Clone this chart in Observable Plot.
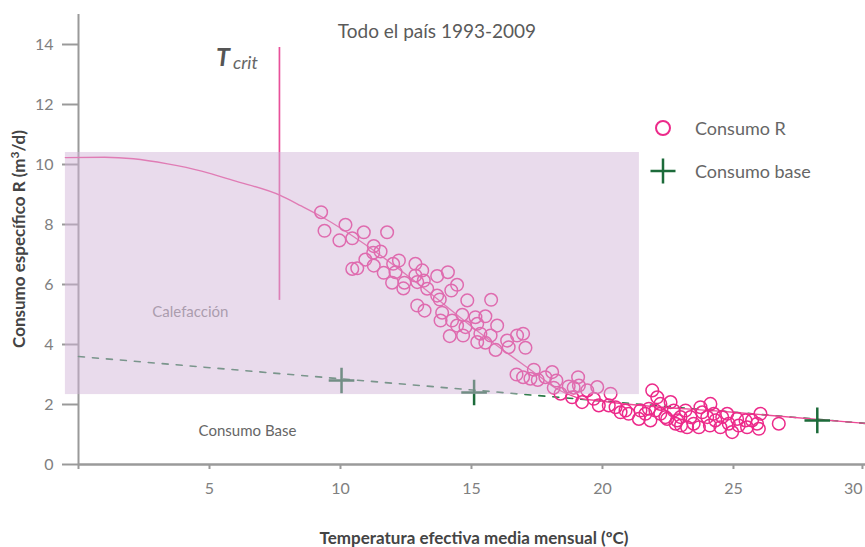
<!DOCTYPE html>
<html><head><meta charset="utf-8">
<script src="https://cdn.jsdelivr.net/npm/d3@7"></script>
<script src="https://cdn.jsdelivr.net/npm/@observablehq/plot@0.6"></script>
<style>
body{margin:0;background:#fff;font-family:Lato,sans-serif;}
#wrap{position:relative;width:865px;height:547px;overflow:hidden;}
#title{position:absolute;top:20px;left:0;width:874px;text-align:center;font-size:19px;line-height:22px;color:#5a5a5a;}
.legsym{position:absolute;left:648px;width:30px;height:30px;}
.legtxt{position:absolute;left:695px;font-size:18px;line-height:20px;color:#666;white-space:nowrap;}
</style></head><body><div id="wrap"></div>
<script>
// Consumo R (scatter): temperature (ºC) and specific consumption (m3/d)
const tempR = [9.26,9.39,10.19,9.96,10.45,10.89,11.78,11.27,11.53,11.25,10.95,10.45,10.64,11.27,11.65,12.01,12.23,12.10,11.97,12.44,12.86,12.86,12.40,12.93,
13.12,13.18,13.31,13.69,14.10,14.45,14.23,13.69,13.79,14.84,15.75,12.93,13.21,13.88,13.82,14.26,14.65,14.45,14.77,15.15,15.53,15.22,15.98,14.17,14.68,15.22,15.73,15.53,16.36,16.74,16.42,
15.34,15.92,16.97,17.06,17.38,16.72,16.97,17.25,17.53,17.82,18.08,18.24,18.14,18.71,19.07,19.10,19.42,19.80,18.90,18.40,20.31,18.84,19.67,19.22,19.86,20.24,20.50,20.88,20.69,21.00,
21.90,22.09,22.21,21.77,21.45,21.64,22.21,22.60,22.72,22.47,22.85,22.02,21.39,21.83,22.40,22.79,22.98,23.17,23.36,23.48,23.23,23.68,23.74,23.81,24.12,24.00,24.25,24.31,24.50,24.57,24.76,24.82,24.95,
23.00,24.10,25.20,25.14,25.46,25.71,25.52,25.97,26.03,25.90,26.73];
const consR = [8.41,7.79,7.99,7.47,7.54,7.74,7.74,7.28,7.10,7.06,6.83,6.52,6.54,6.63,6.39,6.69,6.80,6.41,6.06,6.06,6.69,6.30,5.87,6.08,
6.47,6.13,5.86,6.28,6.41,5.99,5.80,5.63,5.50,5.47,5.49,5.30,5.13,5.06,4.80,4.80,4.99,4.63,4.58,4.91,4.94,4.69,4.63,4.28,4.30,4.08,4.30,4.06,4.13,4.30,3.91,
4.36,3.82,4.36,3.89,3.16,3.00,2.91,2.86,2.82,2.91,3.08,2.80,2.56,2.60,2.91,2.63,2.47,2.58,2.56,2.36,2.36,2.24,2.19,2.08,1.97,1.97,1.91,1.80,1.74,1.69,
2.47,2.24,2.02,1.86,1.80,1.69,1.69,2.08,1.80,1.52,1.47,1.80,1.52,1.47,1.58,1.36,1.58,1.80,1.58,1.36,1.24,1.24,1.91,1.74,2.02,1.58,1.69,1.47,1.24,1.58,1.69,1.36,1.08,
1.30,1.30,1.30,1.52,1.47,1.47,1.24,1.19,1.69,1.36,1.36];
// Consumo base (crosses)
const tempBase = [10.04, 15.10, 28.20];
const consBase = [2.80, 2.40, 1.47];
// fitted curve
const fitT = [-0.5, 1, 2.1, 3.4, 4.7, 5.9, 7.7, 8.5, 9.3, 11, 13, 15.3, 17.5, 18.3, 19, 20, 25, 30.04];
const fitR = [10.23, 10.24, 10.19, 10.02, 9.78, 9.47, 8.97, 8.62, 8.25, 7.3, 6.0, 4.4, 3.0, 2.5, 2.24, 2.11, 1.74, 1.37];
// base consumption line (dashed)
const baseT = [0, 30.04];
const baseR = [3.6, 1.37];
// critical temperature
const tCrit = 7.67;
const tCritSpan = [5.47, 13.9];
// heating zone
const heatT = [-0.5, 21.41];
const heatR = [2.33, 10.4];
const xTicks = [0, 5, 10, 15, 20, 25];
const xLastTick = [30];
const yTicks = [0, 2, 4, 6, 8, 10, 12, 14];
const notes = [{t: 4.27, r: 5.07, text: "Calefacción", color: "#888"}, {t: 6.45, r: 1.1, text: "Consumo Base", color: "#666"}];

const pts = tempR.map((t, i) => ({t, r: consR[i]}));
const basePts = tempBase.map((t, i) => ({t, r: consBase[i]}));
const fit = fitT.map((t, i) => ({t, r: fitR[i]}));
const baseLine = baseT.map((t, i) => ({t, r: baseR[i]}));
const heat = [{x1: heatT[0], x2: heatT[1], y1: heatR[0], y2: heatR[1]}];

const pink = "#ec2a8a", green = "#1c6b3a", axisC = "#9a9a9a", tickTxt = "#808080";

const plot = Plot.plot({
  width: 865, height: 547,
  marginLeft: 78, marginRight: 0, marginTop: 14, marginBottom: 83,
  style: {fontFamily: "Lato, sans-serif", background: "transparent", overflow: "visible"},
  x: {domain: [0, 30.04]},
  y: {domain: [0, 15]},
  marks: [
    Plot.axisY({ticks: yTicks, tickSize: 16, tickPadding: 9, stroke: axisC, strokeWidth: 2, fill: tickTxt, fontSize: 16, label: null}),
    Plot.axisX({ticks: xTicks, tickSize: 5, tickPadding: 13, tickFormat: d => d === 0 ? "" : String(d), stroke: axisC, strokeWidth: 2, fill: tickTxt, fontSize: 16, label: null}),
    Plot.axisX({ticks: xLastTick, tickSize: 5, tickPadding: 13, textAnchor: "end", dx: -2, stroke: axisC, strokeWidth: 2, fill: tickTxt, fontSize: 16, label: null}),
    Plot.ruleX([0], {y1: 0, y2: 15, stroke: axisC, strokeWidth: 2}),
    Plot.ruleY([0], {x1: 0, x2: 30.04, stroke: axisC, strokeWidth: 2.5}),
    Plot.line(baseLine, {x: "t", y: "r", stroke: "#2b7a47", strokeWidth: 1.6, strokeDasharray: "6,8"}),
    Plot.line(fit, {x: "t", y: "r", stroke: "#ee4a96", strokeWidth: 1.4, curve: "monotone-x"}),
    Plot.ruleX([tCrit], {y1: tCritSpan[0], y2: tCritSpan[1], stroke: "#e8519a", strokeWidth: 1.7}),
    Plot.dot(pts, {x: "t", y: "r", r: 6.3, stroke: pink, strokeWidth: 1.5, fill: "none"}),
    Plot.dot(basePts, {x: "t", y: "r", symbol: "plus", r: 8.3, stroke: green, strokeWidth: 2.5}),
    Plot.text(notes, {x: "t", y: "r", text: "text", fill: "color", fontSize: 15}),
    Plot.rect(heat, {x1: "x1", x2: "x2", y1: "y1", y2: "y2", fill: "rgb(209,180,215)", fillOpacity: 0.48})
  ]
});

const svg = d3.select(plot);
const xs = plot.scale("x"), ys = plot.scale("y");
// T crit label
const tl = svg.append("text").attr("x", xs.apply(tCrit) - 42).attr("y", ys.apply(tCritSpan[1]) + 19)
  .attr("font-family", "Lato, sans-serif").attr("fill", "#555");
tl.append("tspan").attr("font-size", 25).attr("font-weight", "bold").attr("font-style", "italic").text("T");
tl.append("tspan").attr("font-size", 18).attr("font-style", "italic").attr("dx", 3).attr("dy", 3).attr("fill", "#666").text("crit");
// axis labels
const yl = svg.append("text").attr("transform", "translate(25,239) rotate(-90)").attr("text-anchor", "middle")
  .attr("font-family", "Lato, sans-serif").attr("font-size", 17).attr("font-weight", "bold").attr("fill", "#444");
yl.append("tspan").text("Consumo específico R (m");
yl.append("tspan").attr("font-size", 12).attr("dy", -6).text("3");
yl.append("tspan").attr("dy", 6).text("/d)");
svg.append("text").attr("x", 474).attr("y", 544).attr("text-anchor", "middle")
  .attr("font-family", "Lato, sans-serif").attr("font-size", 17).attr("font-weight", "bold").attr("fill", "#444")
  .text("Temperatura efectiva media mensual (ºC)");

const wrap = document.getElementById("wrap");
wrap.appendChild(plot);
const title = document.createElement("div");
title.id = "title"; title.textContent = "Todo el país 1993-2009";
wrap.appendChild(title);
function legItem(cy, symSvg, label) {
  const s = document.createElement("div");
  s.className = "legsym"; s.style.top = (cy - 15) + "px"; s.innerHTML = symSvg;
  wrap.appendChild(s);
  const t = document.createElement("div");
  t.className = "legtxt"; t.style.top = (cy - 10) + "px"; t.textContent = label;
  wrap.appendChild(t);
}
legItem(128, `<svg width="30" height="30"><circle cx="15" cy="15" r="7" fill="none" stroke="${pink}" stroke-width="2"/></svg>`, "Consumo R");
legItem(171, `<svg width="30" height="30"><path d="M2.5,15H27.5M15,2.5V27.5" stroke="${green}" stroke-width="2.5"/></svg>`, "Consumo base");
</script>
</body></html>
